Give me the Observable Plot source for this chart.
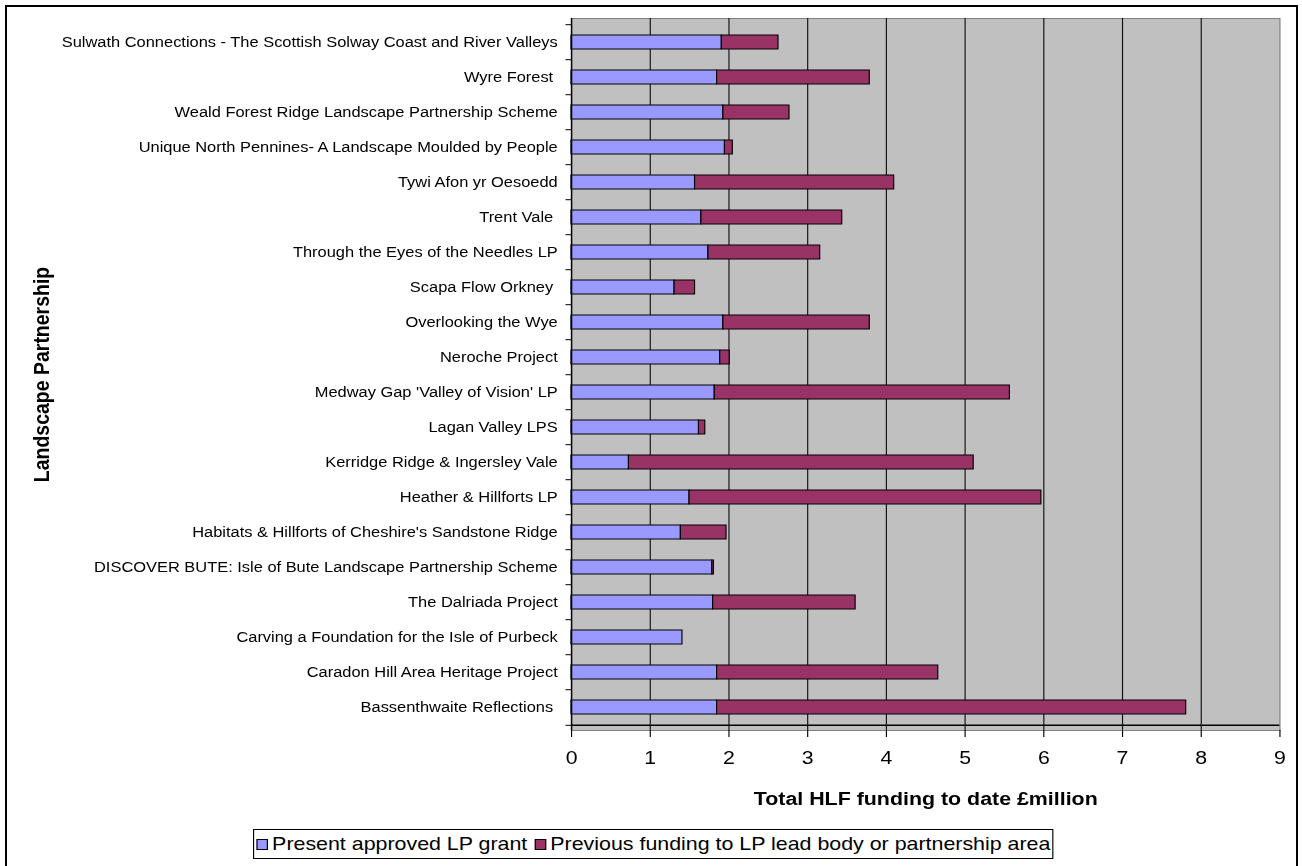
<!DOCTYPE html>
<html>
<head>
<meta charset="utf-8">
<script src="https://cdn.jsdelivr.net/npm/d3@7"></script>
<script src="https://cdn.jsdelivr.net/npm/@observablehq/plot@0.6"></script>
<style>
  html, body { margin: 0; padding: 0; background: #fff; }
  body { width: 1302px; height: 866px; overflow: hidden; position: relative; font-family: Arial, "Liberation Sans", sans-serif; }
  #frame { position: absolute; left: 5px; top: 5px; width: 1293px; height: 900px; border: 2px solid #000; box-sizing: border-box; }
  /* the reference image is stretched horizontally; reproduce that by scaling the whole stage */
  #stage { position: absolute; left: 0; top: 0; width: 1132px; height: 866px; transform: scaleX(1.15); transform-origin: 0 0; }
  #chart { position: absolute; left: 0; top: 0; }
  #legend { position: absolute; left: 220px; top: 829px; width: 696px; height: 30px; border: 1px solid #000; box-sizing: border-box;
            display: flex; align-items: center; justify-content: center; font-size: 18.6px; color: #000; white-space: nowrap; background: #fff; }
  .sw { display: inline-block; width: 8px; height: 9px; border: 1px solid #000; margin: 0 4px 0 0; }
  .item { display: flex; align-items: center; margin: 0 3px; }
</style>
</head>
<body>
<div id="frame"></div>
<div id="stage">
  <div id="chart"></div>
  <div id="legend"></div>
</div>
<script>
const names = [
  "Sulwath Connections - The Scottish Solway Coast and River Valleys",
  "Wyre Forest ",
  "Weald Forest Ridge Landscape Partnership Scheme",
  "Unique North Pennines- A Landscape Moulded by People",
  "Tywi Afon yr Oesoedd",
  "Trent Vale ",
  "Through the Eyes of the Needles LP",
  "Scapa Flow Orkney ",
  "Overlooking the Wye",
  "Neroche Project",
  "Medway Gap 'Valley of Vision' LP",
  "Lagan Valley LPS",
  "Kerridge Ridge & Ingersley Vale",
  "Heather & Hillforts LP",
  "Habitats & Hillforts of Cheshire's Sandstone Ridge",
  "DISCOVER BUTE: Isle of Bute Landscape Partnership Scheme",
  "The Dalriada Project",
  "Carving a Foundation for the Isle of Purbeck",
  "Caradon Hill Area Heritage Project",
  "Bassenthwaite Reflections "
];
const present  = [1.91,1.85,1.93,1.95,1.57,1.65,1.74,1.31,1.93,1.89,1.82,1.62,0.73,1.50,1.39,1.79,1.80,1.41,1.85,1.85];
const previous = [0.72,1.94,0.84,0.10,2.53,1.79,1.42,0.26,1.86,0.12,3.75,0.08,4.38,4.47,0.58,0.02,1.81,0.00,2.81,5.96];
const seriesNames = ["Present approved LP grant", "Previous funding to LP lead body or partnership area"];
const seriesColors = ["#9999FF", "#993366"];
const xTicks = [0,1,2,3,4,5,6,7,8,9];
const xTitle = "Total HLF funding to date £million";
const yTitle = "Landscape Partnership";

const rows = [];
names.forEach((n, i) => {
  rows.push({name: n, series: seriesNames[0], value: present[i]});
  if (previous[i] > 0) rows.push({name: n, series: seriesNames[1], value: previous[i]});
});

const W = 1132, H = 820, mt = 18, mb = 90, ml = 496.5, mr = 19.5;
const step = (H - mt - mb) / names.length;

const chart = Plot.plot({
  width: W, height: H,
  marginTop: mt, marginBottom: mb, marginLeft: ml, marginRight: mr,
  style: {fontFamily: "Arial, 'Liberation Sans', sans-serif", fontSize: "14.3px", background: "transparent", color: "#000"},
  x: {domain: [0, 9], ticks: xTicks},
  y: {domain: names, paddingInner: 0.6, paddingOuter: 0.3, align: 0.5},
  color: {domain: seriesNames, range: seriesColors},
  marks: [
    Plot.frame({fill: "#C0C0C0", stroke: "#808080"}),
    Plot.ruleX(xTicks.slice(1, -1), {stroke: "#111", strokeWidth: 1}),
    Plot.barX(rows, {y: "name", x: "value", fill: "series", stroke: "#000", strokeWidth: 1}),
    Plot.ruleX([0], {stroke: "#000", strokeWidth: 1.3}),
    Plot.ruleY(names.slice(-1), {y: d => d, x1: 0, x2: 9, dy: step / 2, stroke: "#000", strokeWidth: 1.5}),
    Plot.ruleY(names, {y: d => d, x1: -0.07, x2: 0, dy: -step / 2, stroke: "#000", clip: false}),
    Plot.ruleY(names.slice(-1), {y: d => d, x1: -0.07, x2: 0, dy: step / 2, stroke: "#000", clip: false}),
    Plot.axisY({tickSize: 0, tickPadding: 12, fontSize: 14.3, label: null}),
    Plot.axisX({ticks: xTicks, tickSize: 7, tickPadding: 13, fontSize: 18.5, label: null, tickFormat: d => String(d)}),
    Plot.text([xTitle], {frameAnchor: "bottom", dy: 74, fontWeight: "bold", fontSize: 18.6, fill: "#000"}),
    Plot.text([yTitle], {frameAnchor: "left", dx: -461, rotate: -90, textAnchor: "middle", fontWeight: "bold", fontSize: 19.5, fill: "#000"})
  ]
});
document.getElementById("chart").appendChild(chart);

const legend = document.getElementById("legend");
seriesNames.forEach((s, i) => {
  const item = document.createElement("span");
  item.className = "item";
  const sw = document.createElement("span");
  sw.className = "sw";
  sw.style.background = seriesColors[i];
  item.appendChild(sw);
  item.appendChild(document.createTextNode(s));
  legend.appendChild(item);
});
</script>
</body>
</html>
